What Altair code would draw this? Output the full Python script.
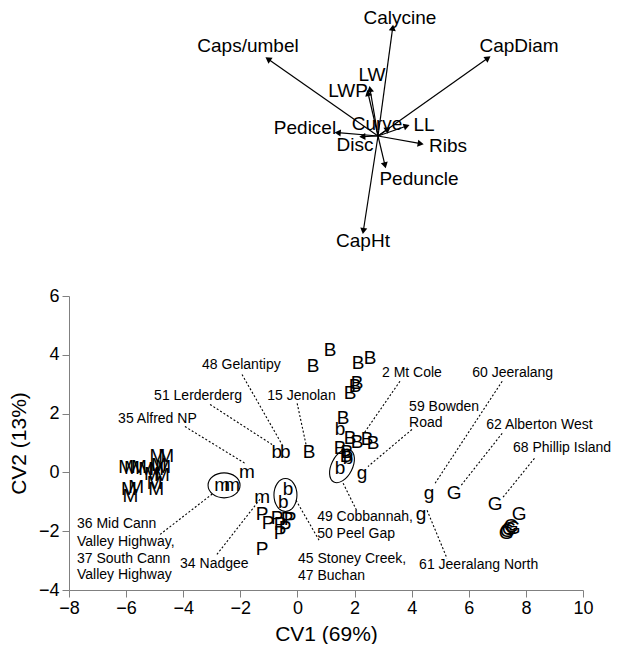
import math
import altair as alt
import pandas as pd

FONT = "Liberation Sans"

# ---------------- biplot (variable loadings) ----------------
var_names = ["Calycine", "Caps/umbel", "CapDiam", "LW", "LWP", "Curve", "LL",
             "Pedicel", "Disc", "Ribs", "Peduncle", "CapHt"]
load_x = [0.147, -1.10, 1.10, -0.08, -0.10, 0.10, 0.287, -0.403, -0.157, 0.427, 0.07, -0.147]
load_y = [1.083, 0.77, 0.78, 0.47, 0.43, 0.07, 0.10, 0.033, -0.007, -0.077, -0.293, -0.95]
label_x = [0.22, -1.30, 1.41, -0.06, -0.30, -0.01, 0.46, -0.73, -0.23, 0.70, 0.41, -0.15]
label_y = [1.18, 0.90, 0.90, 0.61, 0.45, 0.12, 0.11, 0.08, -0.09, -0.10, -0.43, -1.05]

# ---------------- canonical variate scores ----------------
score_letter = (["M"] * 16 + ["m"] * 4 + ["B"] * 16 + ["b"] * 7 + ["P"] * 9 +
                ["g"] * 3 + ["G"] * 8)
score_cv1 = [
    -6.0, -5.8, -5.55, -5.3, -5.1, -4.95, -4.85, -4.9, -4.6, -4.7, -5.0, -5.9, -5.65, -5.85, -4.95, -4.75,
    -1.77, -2.64, -2.29, -1.24,
    1.14, 0.55, 2.12, 2.54, 2.09, 2.02, 1.84, 1.60, 1.84, 2.09, 2.44, 2.65, 1.49, 1.74, 0.41, 1.70,
    -0.72, -0.43, 1.49, 1.77, 1.49, -0.33, -0.50,
    -1.24, -1.03, -0.71, -0.61, -0.61, -0.36, -0.26, -0.43, -1.24,
    2.26, 4.61, 4.33,
    5.49, 6.92, 7.76, 7.41, 7.55, 7.34, 7.48, 7.31,
]
score_cv2 = [
    0.2, 0.15, 0.2, 0.1, -0.05, 0.1, 0.25, 0.55, 0.55, 0.2, -0.35, -0.55, -0.5, -0.8, -0.55, -0.1,
    0.03, -0.44, -0.44, -0.82,
    4.18, 3.61, 3.71, 3.88, 3.03, 2.93, 2.69, 1.84, 1.16, 1.05, 1.12, 0.99, 0.82, 0.71, 0.71, 0.55,
    0.71, 0.71, 1.46, 0.48, 0.14, -0.58, -1.0,
    -1.43, -1.73, -1.56, -1.77, -2.07, -1.60, -1.60, -1.90, -2.62,
    -0.03, -0.71, -1.43,
    -0.71, -1.09, -1.43, -1.94, -1.90, -2.01, -1.84, -2.07,
]

# ---------------- site annotations ----------------
note_text = ["48 Gelantipy", "51 Lerderderg", "35 Alfred NP", "15 Jenolan", "2 Mt Cole",
             "60 Jeeralang", "59 Bowden", "Road", "62 Alberton West", "68 Phillip Island",
             "49 Cobbannah,", "50 Peel Gap", "45 Stoney Creek,", "47 Buchan",
             "61 Jeeralang North", "34 Nadgee", "36 Mid Cann", "Valley Highway,",
             "37 South Cann", "Valley Highway"]
note_x = [-3.34, -5.02, -6.28, -1.06, 2.96, 6.12, 3.91, 3.91, 6.61, 7.55,
          0.69, 0.69, 0.02, 0.02, 4.26, -4.11, -7.72, -7.72, -7.72, -7.72]
note_y = [3.67, 2.59, 1.80, 2.59, 3.37, 3.37, 2.24, 1.67, 1.60, 0.82,
          -1.50, -2.11, -2.93, -3.54, -3.16, -3.13, -1.77, -2.38, -2.93, -3.50]

leader_x1 = [-1.94, -3.06, -3.94, -0.01, 3.59, 7.17, 4.01, 7.17, 8.30, 1.60, -0.05, 4.54, -2.82, -4.81]
leader_y1 = [3.33, 2.31, 1.56, 2.35, 3.10, 3.10, 1.46, 1.33, 0.48, -0.37, -0.95, -1.29, -2.79, -2.11]
leader_x2 = [-0.50, -0.89, -1.84, 0.30, 2.30, 4.82, 2.47, 5.70, 7.17, 2.09, 0.76, 5.24, -1.30, -2.95]
leader_y2 = [0.88, 0.95, 0.31, 0.95, 1.29, -0.37, 0.20, -0.48, -0.88, -1.33, -2.31, -2.93, -0.90, -0.71]

# grouped sites (ellipse centres)
group_cv1 = [-2.57, -0.42, 1.56]
group_cv2 = [-0.44, -0.77, 0.22]


def ellipse_path(ratio):
    r = round(ratio, 3)
    return f"M 0 -1 A {r} 1 0 1 1 0 1 A {r} 1 0 1 1 0 -1 Z"


ellipse_style = [  # (minor/major ratio, major diameter px, rotation)
    (25 / 32, 32, 90),
    (23 / 33, 33, 0),
    (10.5 / 18, 36, 27),
]

# ---------------- data frames ----------------
vec = pd.DataFrame({"var": var_names, "x": load_x, "y": load_y,
                    "lx": label_x, "ly": label_y})
vec["x0"] = 0.0
vec["y0"] = 0.0
vec["ang"] = [(math.degrees(math.atan2(a, b)) + 360) % 360 for a, b in zip(load_x, load_y)]

scores = pd.DataFrame({"grp": score_letter, "cv1": score_cv1, "cv2": score_cv2})
notes = pd.DataFrame({"t": note_text, "x": note_x, "y": note_y})
leaders = pd.DataFrame({"x": leader_x1, "y": leader_y1, "x2": leader_x2, "y2": leader_y2})
ell = pd.DataFrame({"x": group_cv1, "y": group_cv2,
                    "path": [ellipse_path(s[0]) for s in ellipse_style],
                    "size": [s[1] ** 2 for s in ellipse_style],
                    "ang": [s[2] for s in ellipse_style]})

# ---------------- top panel ----------------
bx = alt.Scale(domain=[-3.09, 2.05], nice=False, zero=False)
by = alt.Scale(domain=[-1.31, 1.27], nice=False, zero=False)

arrows = alt.Chart(vec).mark_rule(color="black", strokeWidth=1.2).encode(
    x=alt.X("x0:Q", scale=bx, axis=None),
    y=alt.Y("y0:Q", scale=by, axis=None),
    x2="x:Q", y2="y:Q")
heads = alt.Chart(vec).mark_point(shape="triangle-up", filled=True, color="black",
                                  opacity=1, size=50).encode(
    x=alt.X("x:Q", scale=bx, axis=None),
    y=alt.Y("y:Q", scale=by, axis=None),
    angle=alt.Angle("ang:Q", scale=None))
vlabels = alt.Chart(vec).mark_text(font=FONT, fontSize=19, color="black",
                                   align="center", baseline="middle").encode(
    x=alt.X("lx:Q", scale=bx, axis=None),
    y=alt.Y("ly:Q", scale=by, axis=None),
    text="var:N")
top = alt.layer(arrows, heads, vlabels).properties(width=514, height=258)

# ---------------- bottom panel ----------------
sx = alt.Scale(domain=[-8, 10], nice=False, zero=False)
sy = alt.Scale(domain=[-4, 6], nice=False, zero=False)
xax = alt.Axis(title="CV1 (69%)", values=list(range(-8, 11, 2)), grid=False,
               tickSize=7, labelPadding=2, titlePadding=6, labelFlush=False,
               labelFontSize=18, titleFontSize=21, titleFontWeight="normal",
               domainColor="#808080", tickColor="#808080", labelColor="black",
               labelFont=FONT, titleFont=FONT)
yax = alt.Axis(title="CV2 (13%)", values=list(range(-4, 7, 2)), grid=False,
               tickSize=7, labelPadding=3, titlePadding=9, labelFlush=False,
               labelFontSize=18, titleFontSize=21, titleFontWeight="normal",
               domainColor="#808080", tickColor="#808080", labelColor="black",
               labelFont=FONT, titleFont=FONT)

lead = alt.Chart(leaders).mark_rule(color="black", strokeWidth=1.1,
                                    strokeDash=[2, 2]).encode(
    x=alt.X("x:Q", scale=sx, axis=xax),
    y=alt.Y("y:Q", scale=sy, axis=yax),
    x2="x2:Q", y2="y2:Q")
pts = alt.Chart(scores).mark_text(font=FONT, fontSize=19, color="black",
                                  align="center", baseline="middle").encode(
    x=alt.X("cv1:Q", scale=sx), y=alt.Y("cv2:Q", scale=sy), text="grp:N")
ells = alt.Chart(ell).mark_point(filled=False, color="black", strokeWidth=1.1,
                                 opacity=1).encode(
    x=alt.X("x:Q", scale=sx), y=alt.Y("y:Q", scale=sy),
    shape=alt.Shape("path:N", scale=None),
    size=alt.Size("size:Q", scale=None),
    angle=alt.Angle("ang:Q", scale=None))
txt = alt.Chart(notes).mark_text(font=FONT, fontSize=14, color="black",
                                 align="left", baseline="middle").encode(
    x=alt.X("x:Q", scale=sx), y=alt.Y("y:Q", scale=sy), text="t:N")
bottom = alt.layer(lead, ells, pts, txt).properties(width=514, height=294)

chart = alt.vconcat(top, bottom, spacing=20).properties(padding=0).configure(
    font=FONT).configure_view(stroke=None)

chart.save("out.html", embed_options={"renderer": "svg", "actions": False})
